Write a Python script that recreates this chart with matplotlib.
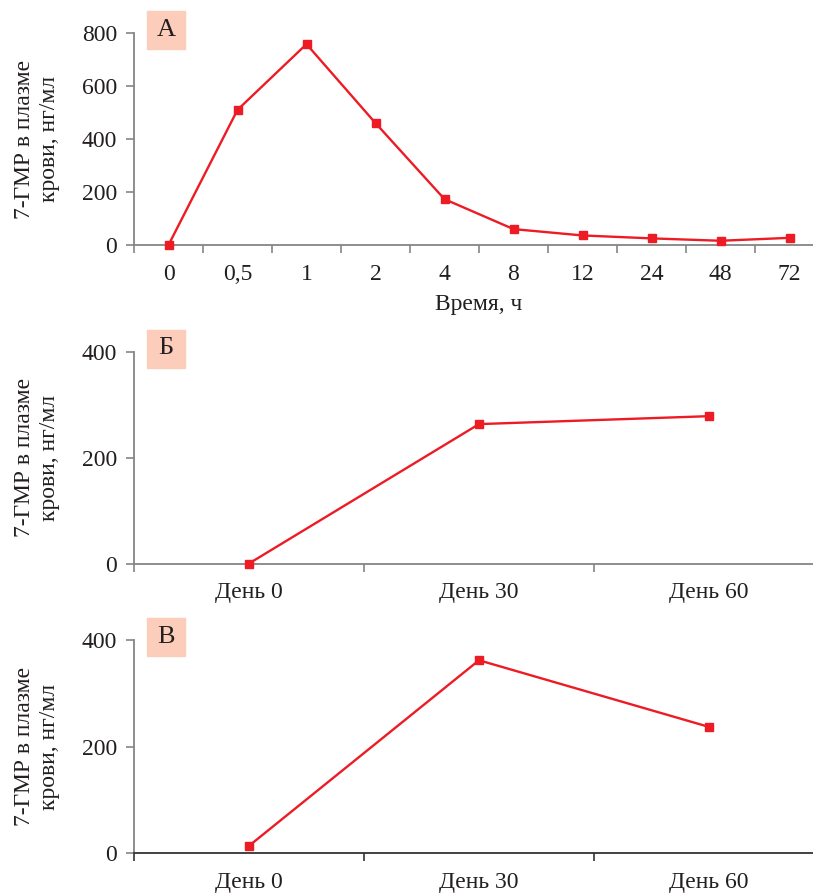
import matplotlib
matplotlib.use("Agg")
import matplotlib.pyplot as plt
import numpy as np

plt.rcParams['font.family'] = ['Liberation Serif', 'DejaVu Serif']
plt.rcParams['font.size'] = 17

# data
hours = ['0', '0,5', '1', '2', '4', '8', '12', '24', '48', '72']
conc_a = [0, 510, 758, 460, 173, 60, 36, 25, 16, 27]

days = ['День 0', 'День 30', 'День 60']
conc_b = [0, 263, 278]
conc_v = [14, 362, 237]

ylabel = '7-ГМР в плазме\nкрови, нг/мл'
red = '#ED1C24'
txt = '#231F20'
grey = '#858585'
box = '#FCCDBA'

fig = plt.figure(figsize=(8.13, 8.93), dpi=100)

def panel(rect, cats, vals, ymax, ystep, letter, spine_col):
    ax = fig.add_axes(rect)
    n = len(cats)
    x = np.arange(n)
    ax.plot(x, vals, color=red, lw=1.7, marker='s', ms=6, mec=red, mfc=red,
            clip_on=False, zorder=3)
    ax.set_xlim(-0.5, n - 0.5)
    ax.set_ylim(0, ymax)
    for s in ['top', 'right']:
        ax.spines[s].set_visible(False)
    ax.spines['left'].set_color(grey)
    ax.spines['bottom'].set_color(spine_col)
    ax.spines['left'].set_linewidth(1.3)
    ax.spines['bottom'].set_linewidth(1.3)
    ax.set_yticks(np.arange(0, ymax + 1, ystep))
    ax.tick_params(axis='y', length=6, width=1.2, color=grey, pad=6,
                   labelcolor=txt)
    # ticks on category boundaries, labels at the centres
    ax.set_xticks(np.arange(-0.5, n, 1))
    ax.set_xticklabels([])
    ax.set_xticks(x, minor=True)
    ax.set_xticklabels(cats, minor=True, va='baseline')
    ax.tick_params(axis='x', which='major', length=6, width=1.2, color=spine_col)
    ax.tick_params(axis='x', which='minor', length=0, pad=25, labelcolor=txt)
    ax.text(-0.1406, 0.5, ylabel, transform=ax.transAxes, rotation=90,
            ha='center', va='center', color=txt, linespacing=1.2)
    # panel letter
    x0 = 147 / 813
    y_top = rect[1] + rect[3] + 22 / 893
    fig.patches.append(plt.Rectangle((x0, y_top - 38 / 893), 38 / 813, 38 / 893,
                                     transform=fig.transFigure, color=box,
                                     zorder=0))
    fig.text(x0 + 19 / 813, y_top - 19 / 893, letter, ha='center',
             va='center', color=txt, fontsize=19)
    return ax

left = 134 / 813
width = 690 / 813
ax_a = panel([left, 1 - 245 / 893, width, 212 / 893], hours, conc_a, 800, 200,
             'А', grey)
ax_a.text(345 / 690, -65 / 212, 'Время, ч', transform=ax_a.transAxes,
          ha='center', va='baseline', color=txt)

panel([left, 1 - 563.5 / 893, width, 212 / 893], days, conc_b, 400, 200,
      'Б', grey)
panel([left, 1 - 853.3 / 893, width, 213.3 / 893], days, conc_v, 400, 200,
      'В', '#333333')

fig.savefig('out.png', dpi=100)
